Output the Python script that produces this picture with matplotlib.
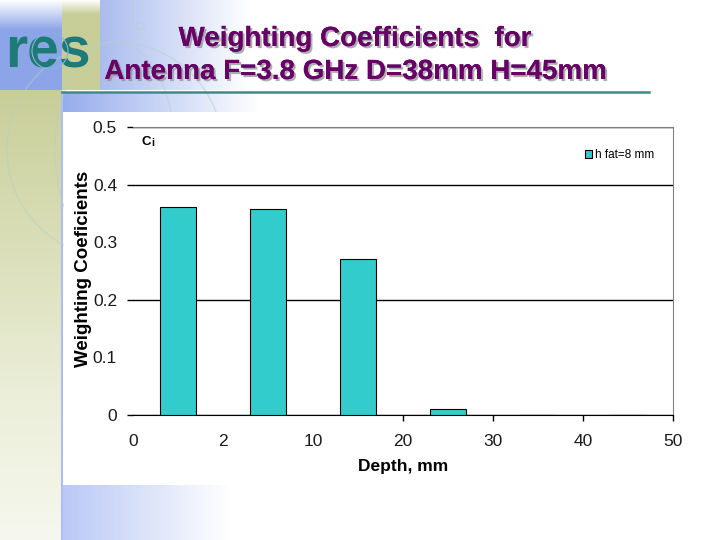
import numpy as np
import matplotlib.pyplot as plt
from matplotlib import patheffects
from matplotlib.patches import Rectangle, Circle, Ellipse

# depth bins (mm) and weighting coefficients
depth_edges = ["0", "2", "10", "20", "30", "40", "50"]
coef = [0.361, 0.357, 0.270, 0.010, 0.0, 0.0]
series_name = "h fat=8 mm"
y_major = [0, 0.2, 0.4, 0.5]
y_minor = [0.1, 0.3]

plt.rcParams['font.family'] = ['Liberation Sans', 'DejaVu Sans']

fig = plt.figure(figsize=(7.2, 5.4), dpi=100)

# slide background, in pixel coordinates (y down)
bg = fig.add_axes([0, 0, 1, 1], zorder=0)
bg.axis('off')


def grad(x0, x1, y0, y1, c0, c1, horizontal=True):
    t = np.linspace(0, 1, 256)
    a = np.array(c0) / 255
    b = np.array(c1) / 255
    cols = a[None, :] * (1 - t[:, None]) + b[None, :] * t[:, None]
    img = cols[None, :, :] if horizontal else cols[:, None, :]
    bg.imshow(img, extent=(x0, x1, y1, y0), aspect='auto', zorder=1,
              interpolation='bilinear')


blue = (140, 165, 232)
olive = (200, 206, 152)
white = (255, 255, 255)
grad(0, 62, 0, 30, white, blue, horizontal=False)
grad(0, 62, 30, 90, blue, blue)
grad(0, 62, 90, 400, olive, (236, 239, 218), horizontal=False)
grad(0, 62, 400, 540, (236, 239, 218), (246, 247, 238), horizontal=False)
grad(62, 100, 0, 14, white, olive, horizontal=False)
grad(62, 100, 14, 90, olive, olive)
grad(100, 250, 0, 90, (170, 188, 238), white)
grad(62, 260, 92, 112, (150, 172, 236), white)
grad(62, 230, 485, 540, (185, 200, 245), white)
bg.plot([62, 62], [92, 540], color=(175/255, 190/255, 240/255), lw=1.5, zorder=2)

# faint globe lines behind the chart
globe_c = (0.70, 0.82, 0.78)
bg.add_patch(Circle((115, 150), 108, fill=False, ec=globe_c, lw=1.0, alpha=0.5, zorder=2))
bg.add_patch(Ellipse((115, 150), 120, 216, fill=False, ec=globe_c, lw=0.9, alpha=0.5, zorder=2))
bg.plot([133, 133], [0, 22], color=globe_c, lw=1.0, alpha=0.6, zorder=2)
bg.add_patch(Circle((140, 26), 4, fill=False, ec=globe_c, lw=0.9, alpha=0.6, zorder=2))

# white chart box
bg.add_patch(Rectangle((64, 112), 720 - 64, 485 - 112, fc='white', ec='none', zorder=3))

# logo
bg.text(5, 67, "res", fontsize=41, fontweight='bold', color=(30/255, 122/255, 118/255),
        ha='left', va='baseline', zorder=5)
bg.add_patch(Circle((50, 51), 18, fill=False, ec=(0.55, 0.7, 0.85), lw=0.8, zorder=6))

# title
shadow = [patheffects.withSimplePatchShadow(offset=(1.5, -1.5), shadow_rgbFace=(0.55, 0.55, 0.55),
                                            alpha=0.7),
          patheffects.Normal()]
title_c = (102/255, 0, 102/255)
bg.text(355, 46, "Weighting Coefficients  for", fontsize=20, fontweight='bold',
        color=title_c, ha='center', va='baseline', zorder=5, path_effects=shadow)
bg.text(355.5, 79, "Antenna F=3.8 GHz D=38mm H=45mm", fontsize=20, fontweight='bold',
        color=title_c, ha='center', va='baseline', zorder=5, path_effects=shadow)
bg.plot([62, 649], [91.5, 91.5], color=(70/255, 135/255, 135/255), lw=1.8, zorder=5)

# axis labels and legend frame pieces
bg.text(83, 269, "Weighting Coeficients", rotation=90, fontsize=13.5, fontweight='bold',
        ha='center', va='center', zorder=5)
bg.text(403, 466, "Depth, mm", fontsize=12.5, fontweight='bold',
        ha='center', va='center', zorder=5)
bg.plot([583, 662, 662], [138, 138, 173], color='black', lw=0.8, zorder=5)

bg.set_xlim(0, 720)
bg.set_ylim(540, 0)

# chart
ax = fig.add_axes([133/720, 1 - 415/540, 540/720, 288/540], zorder=1)
ax.set_facecolor('white')
x = np.arange(len(coef)) + 0.5
ax.bar(x, coef, width=0.4, color='#33CCCC', edgecolor='black', linewidth=0.8,
       zorder=3, label=series_name)
ax.set_xlim(0, len(coef))
ax.set_ylim(0, 0.5)

tick_font = dict(labelsize=12.5, labelcolor='#1a1a1a')
ax.set_yticks(y_major)
ax.set_yticklabels(["0", "0.2", "0.4", "0.5"])
ax.set_yticks(y_minor, minor=True)
ax.set_yticklabels(["0.1", "0.3"], minor=True)
ax.tick_params(axis='y', which='major', length=4.5, width=1, direction='out', pad=7, **tick_font)
ax.tick_params(axis='y', which='minor', length=0, pad=11.5, **tick_font)

ax.set_xticks([3, 4, 5, 6])
ax.set_xticklabels(depth_edges[3:])
ax.set_xticks([0, 1, 2], minor=True)
ax.set_xticklabels(depth_edges[:3], minor=True)
ax.tick_params(axis='x', which='major', length=4.5, width=1, direction='out', pad=9.5, **tick_font)
ax.tick_params(axis='x', which='minor', length=0, pad=14, **tick_font)

ax.grid(axis='y', which='major', color='black', lw=1)
ax.set_axisbelow(True)
ax.spines['left'].set_visible(False)
ax.spines['bottom'].set_color('black')
ax.spines['top'].set_color('#808080')
ax.spines['right'].set_color('#808080')

ax.text(0.015, 0.937, "C", transform=ax.transAxes, fontsize=9.5,
        fontweight='bold', ha='left', va='baseline')
ax.text(0.0335, 0.934, "i", transform=ax.transAxes, fontsize=7.5,
        fontweight='bold', ha='left', va='baseline')

ax.legend(loc='center left', bbox_to_anchor=(585/720, 1 - 155/540),
          bbox_transform=fig.transFigure, frameon=False, fontsize=8.5,
          handlelength=0.6, handleheight=0.6, handletextpad=0.25,
          borderpad=0, borderaxespad=0)

fig.savefig("out.png", dpi=100)
